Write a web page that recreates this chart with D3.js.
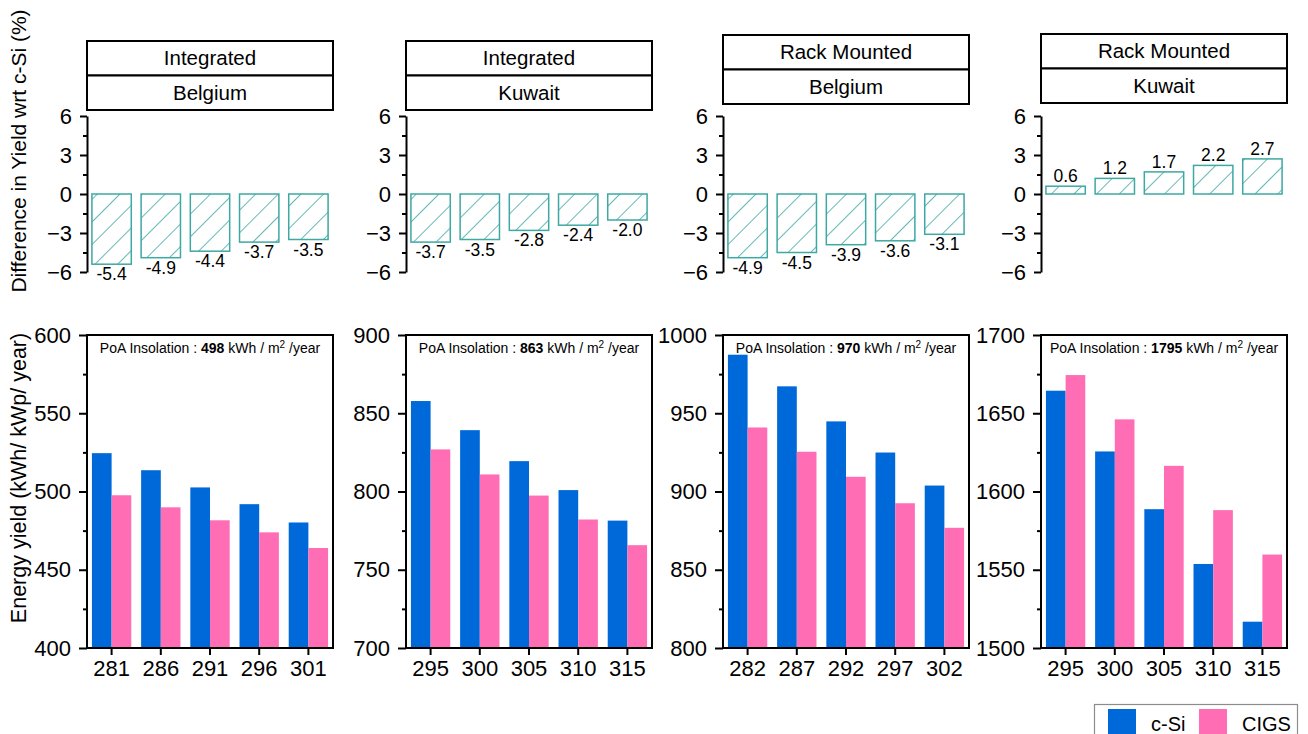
<!DOCTYPE html>
<html>
<head>
<meta charset="utf-8">
<script src="https://cdn.jsdelivr.net/npm/d3@7"></script>
<style>
  body { margin: 0; background: #fff; }
  svg { font-family: "Liberation Sans", Arial, sans-serif; }
</style>
</head>
<body>
<div id="chart"></div>
<script>
// chart values, one entry per panel
var mounting = ["Integrated", "Integrated", "Rack Mounted", "Rack Mounted"];
var sites = ["Belgium", "Kuwait", "Belgium", "Kuwait"];
var insolation = [498, 863, 970, 1795];
var ratings = [
  [281, 286, 291, 296, 301],
  [295, 300, 305, 310, 315],
  [282, 287, 292, 297, 302],
  [295, 300, 305, 310, 315]
];
var cSiYield = [
  [524.5, 513.6, 502.6, 491.9, 480.2],
  [857.8, 839.2, 819.4, 800.9, 781.4],
  [987.4, 967.2, 944.8, 924.9, 903.8],
  [1664.4, 1625.6, 1588.7, 1553.7, 1516.8]
];
var cigsYield = [
  [497.6, 489.9, 481.6, 473.9, 463.9],
  [826.9, 810.9, 797.4, 782.1, 765.7],
  [940.9, 925.4, 909.4, 892.5, 876.8],
  [1674.4, 1646.1, 1616.4, 1588.1, 1559.7]
];
var yieldDiff = [
  [-5.4, -4.9, -4.4, -3.7, -3.5],
  [-3.7, -3.5, -2.8, -2.4, -2.0],
  [-4.9, -4.5, -3.9, -3.6, -3.1],
  [0.6, 1.2, 1.7, 2.2, 2.7]
];
var yieldDomains = [[400, 600], [700, 900], [800, 1000], [1500, 1700]];
var diffTicks = [6, 3, 0, -3, -6];
var diffMinor = [4.5, 1.5, -1.5, -4.5];
var seriesNames = ["c-Si", "CIGS"];

var svgWidth = 1308;
var svgHeight = 734;

var blue = "#0069d9";
var pink = "#ff6eb4";
var teal = "#3ea8a3";

// panel geometry
var panelLeft = [87, 406, 723, 1041];
var panelWidth = 246;
var headerTop = [41, 41, 35, 34];
var headerRow = 34.5;
var diffTop = 116, diffBottom = 272;
var yieldTop = 335, yieldBottom = 648;

var svg = d3.select("#chart")
  .append("svg")
  .attr("width", svgWidth)
  .attr("height", svgHeight);

// hatch pattern for the difference bars
var pattern = svg.append("defs").append("pattern")
  .attr("id", "hatch")
  .attr("patternUnits", "userSpaceOnUse")
  .attr("width", 16)
  .attr("height", 16)
  .attr("patternTransform", "rotate(45)");
pattern.append("line")
  .attr("x1", 0).attr("y1", 0)
  .attr("x2", 0).attr("y2", 16)
  .attr("stroke", teal)
  .attr("stroke-width", 1.6);

var diffY = d3.scaleLinear().domain([-6, 6]).range([diffBottom, diffTop]);

ratings.forEach(function(cats, i) {
  var g = svg.append("g").attr("transform", `translate(${panelLeft[i]},0)`);

  var x = d3.scaleBand()
    .domain(cats)
    .range([0, panelWidth])
    .paddingInner(0.2)
    .paddingOuter(0.1);

  // header boxes
  [mounting[i], sites[i]].forEach(function(label, r) {
    var top = headerTop[i] + r * headerRow;
    g.append("rect")
      .attr("x", 0)
      .attr("y", top)
      .attr("width", panelWidth)
      .attr("height", headerRow)
      .attr("fill", "white")
      .attr("stroke", "black")
      .attr("stroke-width", 2);
    g.append("text")
      .attr("x", panelWidth / 2)
      .attr("y", top + headerRow / 2 + 7)
      .attr("text-anchor", "middle")
      .style("font-size", "20.5px")
      .text(label);
  });

  // difference bars
  g.selectAll(".diff")
    .data(yieldDiff[i])
    .enter()
    .append("rect")
    .attr("class", "diff")
    .attr("x", (d, j) => x(cats[j]))
    .attr("y", d => diffY(Math.max(0, d)))
    .attr("width", x.bandwidth())
    .attr("height", d => Math.abs(diffY(d) - diffY(0)))
    .attr("fill", "url(#hatch)")
    .attr("stroke", teal)
    .attr("stroke-width", 1.5);

  g.selectAll(".diffLabel")
    .data(yieldDiff[i])
    .enter()
    .append("text")
    .attr("class", "diffLabel")
    .attr("x", (d, j) => x(cats[j]) + x.bandwidth() / 2)
    .attr("y", d => d < 0 ? diffY(d) + 16 : diffY(d) - 4)
    .attr("text-anchor", "middle")
    .style("font-size", "17.5px")
    .text(d => d.toFixed(1));

  var diffAxis = g.append("g")
    .call(d3.axisLeft(diffY).tickValues(diffTicks).tickSize(7).tickSizeOuter(0).tickPadding(8)
      .tickFormat(d3.format("d")));
  diffAxis.selectAll("text").style("font-size", "22px").attr("fill", "black");
  diffAxis.select(".domain").attr("stroke-width", 2);
  diffAxis.selectAll(".tick line").attr("stroke-width", 2);
  g.append("g")
    .call(d3.axisLeft(diffY).tickValues(diffMinor).tickSize(4).tickFormat(""))
    .call(a => a.select(".domain").remove())
    .selectAll(".tick line").attr("stroke-width", 2);

  // energy yield bars
  var y = d3.scaleLinear().domain(yieldDomains[i]).range([yieldBottom, yieldTop]);
  var x1 = d3.scaleBand().domain(seriesNames).range([0, x.bandwidth()]);

  var rows = cats.map(function(c, j) {
    return [
      { cat: c, series: "c-Si", value: cSiYield[i][j] },
      { cat: c, series: "CIGS", value: cigsYield[i][j] }
    ];
  });

  g.selectAll(".group")
    .data(rows)
    .enter()
    .append("g")
    .attr("transform", d => `translate(${x(d[0].cat)},0)`)
    .selectAll("rect")
    .data(d => d)
    .enter()
    .append("rect")
    .attr("x", d => x1(d.series))
    .attr("y", d => y(d.value))
    .attr("width", x1.bandwidth())
    .attr("height", d => yieldBottom - y(d.value))
    .attr("fill", d => d.series === "c-Si" ? blue : pink);

  var yAxis = g.append("g")
    .call(d3.axisLeft(y).ticks(4).tickSize(8).tickSizeOuter(0).tickPadding(8)
      .tickFormat(d3.format("d")));
  yAxis.selectAll("text").style("font-size", "22px").attr("fill", "black");
  yAxis.select(".domain").remove();
  yAxis.selectAll(".tick line").attr("stroke-width", 2);

  g.append("g")
    .call(d3.axisLeft(y).tickValues(d3.range(yieldDomains[i][0] + 25, yieldDomains[i][1], 50))
      .tickSize(4).tickFormat(""))
    .call(a => a.select(".domain").remove())
    .selectAll(".tick line").attr("stroke-width", 2);

  var xAxis = g.append("g")
    .attr("transform", `translate(0,${yieldBottom})`)
    .call(d3.axisBottom(x).tickSize(7).tickSizeOuter(0).tickPadding(5));
  xAxis.selectAll("text").style("font-size", "22px").attr("fill", "black");
  xAxis.select(".domain").remove();
  xAxis.selectAll(".tick line").attr("stroke-width", 2);

  // frame
  g.append("rect")
    .attr("x", 0)
    .attr("y", yieldTop)
    .attr("width", panelWidth)
    .attr("height", yieldBottom - yieldTop)
    .attr("fill", "none")
    .attr("stroke", "black")
    .attr("stroke-width", 2);

  // insolation note
  var note = g.append("text")
    .attr("x", panelWidth / 2)
    .attr("y", yieldTop + 18)
    .attr("text-anchor", "middle")
    .style("font-size", "14px");
  note.append("tspan").text("PoA Insolation : ");
  note.append("tspan").style("font-weight", "bold").text(insolation[i]);
  note.append("tspan").text(" kWh / m");
  note.append("tspan").attr("dy", -5).style("font-size", "10px").text("2");
  note.append("tspan").attr("dy", 5).text(" /year");
});

// axis titles
svg.append("text")
  .attr("transform", "translate(26,151) rotate(-90)")
  .attr("text-anchor", "middle")
  .style("font-size", "21px")
  .text("Difference in Yield wrt c-Si (%)");

svg.append("text")
  .attr("transform", "translate(26,478) rotate(-90)")
  .attr("text-anchor", "middle")
  .style("font-size", "21.5px")
  .text("Energy yield (kWh/ kWp/ year)");

// legend
var legend = svg.append("g");
legend.append("rect")
  .attr("x", 1094.5)
  .attr("y", 704.5)
  .attr("width", 203)
  .attr("height", 40)
  .attr("fill", "white")
  .attr("stroke", "#8c8c8c")
  .attr("stroke-width", 1.2);

var legendX = [1108, 1199];
seriesNames.forEach(function(name, k) {
  legend.append("rect")
    .attr("x", legendX[k])
    .attr("y", 709)
    .attr("width", 28)
    .attr("height", 28)
    .attr("fill", k === 0 ? blue : pink);
  legend.append("text")
    .attr("x", legendX[k] + 43)
    .attr("y", 731)
    .style("font-size", "20px")
    .text(name);
});
</script>
</body>
</html>
